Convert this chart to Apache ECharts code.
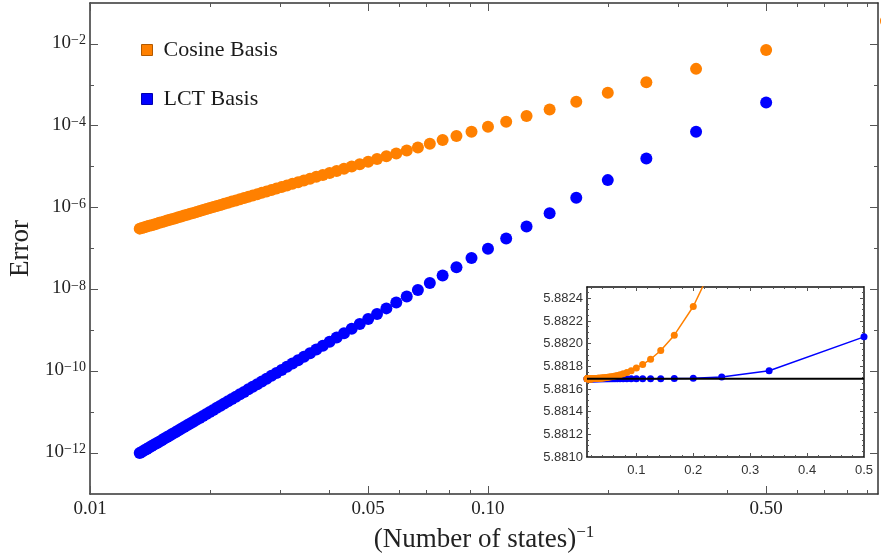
<!DOCTYPE html>
<html><head><meta charset="utf-8">
<script src="https://cdn.jsdelivr.net/npm/echarts@6/dist/echarts.min.js"></script>
<style>html,body{margin:0;padding:0;background:#fff}#c{width:881px;height:556px}</style>
</head><body><div id="c"></div>
<script>
// ---- data ----
const states = [1,2,3,4,5,6,7,8,9,10,11,12,13,14,15,16,17,18,19,20,21,22,23,24,25,26,27,28,29,30,
  31,32,33,34,35,36,37,38,39,40,41,42,43,44,45,46,47,48,49,50,51,52,53,54,55,56,57,58,59,60,
  61,62,63,64,65,66,67,68,69,70,71,72,73,74,75];
const cosineError = [3.63e-2, 7.14e-3, 2.455e-3, 1.164e-3, 6.38e-4, 3.85e-4, 2.50e-4, 1.726e-4, 1.253e-4, 9.46e-5,
  7.14e-5, 5.61e-5, 4.48e-5, 3.64e-5, 2.96e-5, 2.48e-5, 2.10e-5, 1.79e-5, 1.54e-5, 1.324e-5,
  1.153e-5, 1.009e-5, 8.89e-6, 7.87e-6, 7.01e-6, 6.27e-6, 5.64e-6, 5.07e-6, 4.59e-6, 4.17e-6,
  3.80e-6, 3.47e-6, 3.18e-6, 2.92e-6, 2.69e-6, 2.48e-6, 2.30e-6, 2.13e-6, 1.97e-6, 1.84e-6,
  1.71e-6, 1.60e-6, 1.49e-6, 1.40e-6, 1.31e-6, 1.233e-6, 1.159e-6, 1.091e-6, 1.030e-6, 9.73e-7,
  9.18e-7, 8.69e-7, 8.24e-7, 7.82e-7, 7.41e-7, 7.05e-7, 6.70e-7, 6.37e-7, 6.07e-7, 5.78e-7,
  5.52e-7, 5.27e-7, 5.04e-7, 4.81e-7, 4.60e-7, 4.41e-7, 4.23e-7, 4.05e-7, 3.88e-7, 3.72e-7,
  3.58e-7, 3.44e-7, 3.30e-7, 3.18e-7, 3.06e-7];
const lctError = [1.48e-1, 3.70e-4, 7.14e-5, 1.59e-5, 4.69e-6, 1.73e-6, 7.26e-7, 3.44e-7, 1.75e-7, 9.84e-8,
  5.89e-8, 3.48e-8, 2.20e-8, 1.44e-8, 9.73e-9, 6.73e-9, 4.76e-9, 3.44e-9, 2.52e-9, 1.88e-9,
  1.43e-9, 1.09e-9, 8.49e-10, 6.65e-10, 5.27e-10, 4.22e-10, 3.40e-10, 2.76e-10, 2.26e-10, 1.86e-10,
  1.55e-10, 1.29e-10, 1.08e-10, 9.12e-11, 7.73e-11, 6.59e-11, 5.64e-11, 4.84e-11, 4.17e-11, 3.61e-11,
  3.13e-11, 2.74e-11, 2.39e-11, 2.09e-11, 1.85e-11, 1.63e-11, 1.44e-11, 1.28e-11, 1.135e-11, 1.01e-11,
  9.04e-12, 8.07e-12, 7.24e-12, 6.52e-12, 5.86e-12, 5.30e-12, 4.79e-12, 4.34e-12, 3.93e-12, 3.57e-12,
  3.25e-12, 2.96e-12, 2.70e-12, 2.47e-12, 2.26e-12, 2.07e-12, 1.90e-12, 1.75e-12, 1.61e-12, 1.48e-12,
  1.37e-12, 1.26e-12, 1.167e-12, 1.079e-12, 1.00e-12];
const exactEnergy = 5.88169;

const xMajorTicks = [0.01, 0.05, 0.1, 0.5];
const xMinorTicks = [0.02, 0.03, 0.04, 0.06, 0.07, 0.08, 0.09, 0.2, 0.3, 0.4, 0.6, 0.7, 0.8, 0.9];
const yMajorTicks = [1e-12, 1e-10, 1e-8, 1e-6, 1e-4, 1e-2];
const yMinorTicks = [1e-11, 1e-9, 1e-7, 1e-5, 1e-3];
const insetXTicks = [0.1, 0.2, 0.3, 0.4, 0.5];
const insetXMinor = [0.02,0.04,0.06,0.08,0.12,0.14,0.16,0.18,0.22,0.24,0.26,0.28,0.32,0.34,0.36,0.38,0.42,0.44,0.46,0.48];
const insetYTicks = [5.881, 5.8812, 5.8814, 5.8816, 5.8818, 5.882, 5.8822, 5.8824];
const insetYMinor = [5.88105,5.8811,5.88115,5.88125,5.8813,5.88135,5.88145,5.8815,5.88155,5.88165,5.8817,5.88175,
  5.88185,5.8819,5.88195,5.88205,5.8821,5.88215,5.88225,5.8823,5.88235,5.88245];
const insetXMax = 0.5;

// ---- chart ----
const ORANGE = '#ff8000', BLUE = '#0000ff';
const SERIF = 'Liberation Serif', SANS = 'Liberation Sans';
const mainX = {type:'log', logBase:10, min:0.01, max:0.955, gridIndex:0};
const mainY = {type:'log', logBase:10, min:1e-13, max:1e-1, gridIndex:0};
const insX = {type:'value', min:0.0133, max:insetXMax, gridIndex:1};
const insY = {type:'value', min:5.881, max:5.8825, gridIndex:1};

function ax(base, pos, ticks, len, frame, frameColor, extra) {
  return Object.assign({}, base, {
    position: pos,
    splitLine:{show:false}, minorTick:{show:false}, minorSplitLine:{show:false},
    axisLine:{show:frame, onZero:false, lineStyle:{color:frameColor, width:1.5}},
    axisTick:{show:true, inside:true, length:len, customValues:ticks, lineStyle:{color:'#555', width:1}},
    axisLabel:{show:false},
    axisPointer:{show:false}
  }, extra || {});
}

const xAxes = [
  ax(mainX, 'bottom', xMajorTicks, 8, true, '#333', {
    axisLabel:{show:true, customValues:xMajorTicks, margin:6, fontFamily:SERIF, fontSize:19, color:'#222',
      formatter: v => Number(v).toFixed(2)},
    name:'{a|(Number of states)}{s|\u22121}', nameLocation:'middle', nameGap:29,
    nameTextStyle:{rich:{a:{fontFamily:SERIF, fontSize:27, color:'#222', verticalAlign:'bottom', lineHeight:30},
      s:{fontFamily:SERIF, fontSize:17, color:'#222', verticalAlign:'top', lineHeight:17}}}
  }),
  ax(mainX, 'bottom', xMinorTicks, 4, false, '#333'),
  ax(mainX, 'top', xMajorTicks, 8, true, '#333'),
  ax(mainX, 'top', xMinorTicks, 4, false, '#333'),
  ax(insX, 'bottom', insetXTicks, 4, true, '#111', {
    axisLabel:{show:true, customValues:insetXTicks, margin:7, fontFamily:SANS, fontSize:13, color:'#333',
      formatter: v => String(Number(v.toFixed(1)))}
  }),
  ax(insX, 'bottom', insetXMinor, 2, false, '#111'),
  ax(insX, 'top', insetXTicks, 4, true, '#111'),
  ax(insX, 'top', insetXMinor, 2, false, '#111')
];
const yAxes = [
  ax(mainY, 'left', yMajorTicks, 8, true, '#333', {
    axisLabel:{show:true, customValues:yMajorTicks, margin:4, padding:[0,0,2,0],
      formatter: v => '{b|10}{s|\u2212' + Math.round(-Math.log10(v)) + '}',
      rich:{b:{fontFamily:SERIF, fontSize:19, color:'#222', verticalAlign:'bottom', lineHeight:19, padding:[3,0,0,0]},
            s:{fontFamily:SERIF, fontSize:14, color:'#222', verticalAlign:'top', lineHeight:14}}},
    name:'Error', nameLocation:'middle', nameGap:54, nameRotate:90,
    nameTextStyle:{fontFamily:SERIF, fontSize:27, color:'#222'}
  }),
  ax(mainY, 'left', yMinorTicks, 4, false, '#333'),
  ax(mainY, 'right', yMajorTicks, 8, true, '#333'),
  ax(mainY, 'right', yMinorTicks, 4, false, '#333'),
  ax(insY, 'left', insetYTicks, 4, true, '#111', {
    axisLabel:{show:true, customValues:insetYTicks, margin:4, fontFamily:SANS, fontSize:13, color:'#333',
      formatter: v => Number(v).toFixed(4)}
  }),
  ax(insY, 'left', insetYMinor, 2, false, '#111'),
  ax(insY, 'right', insetYTicks, 4, true, '#111'),
  ax(insY, 'right', insetYMinor, 2, false, '#111')
];
for (let i = 4; i < 8; i++) { xAxes[i].gridIndex = 1; yAxes[i].gridIndex = 1; }

const mainCos = states.map((n, i) => [1 / n, cosineError[i]]);
const mainLct = states.map((n, i) => [1 / n, lctError[i]]);
// inset shows the computed energies (exact + error) for points inside its x range
const insCos = states.map((n, i) => [1 / n, exactEnergy + cosineError[i]]).filter(p => p[0] <= insetXMax);
const insLct = states.map((n, i) => [1 / n, exactEnergy + lctError[i]]).filter(p => p[0] <= insetXMax);

const chart = echarts.init(document.getElementById('c'), null, {renderer:'canvas'});
chart.setOption({
  animation:false,
  backgroundColor:'#fff',
  grid:[
    {left:90, top:3, right:3, bottom:62, containLabel:false, outerBoundsMode:'none'},
    {left:587, top:287, width:277, height:170, containLabel:false, outerBoundsMode:'none',
      show:true, backgroundColor:'#fff', borderWidth:0}
  ],
  legend:{
    left:141, top:39, padding:0, orient:'vertical', itemWidth:11, itemHeight:11, itemGap:27, icon:'rect',
    textStyle:{fontFamily:SERIF, fontSize:22, color:'#1a1a1a', lineHeight:22, padding:[0,0,0,6]},
    data:[
      {name:'Cosine Basis', itemStyle:{color:ORANGE, borderColor:'#b35a00', borderWidth:1}},
      {name:'LCT Basis', itemStyle:{color:BLUE, borderColor:'#0000b0', borderWidth:1}}
    ]
  },
  xAxis: xAxes,
  yAxis: yAxes,
  series:[
    {name:'Cosine Basis', type:'scatter', xAxisIndex:0, yAxisIndex:0, data:mainCos, symbolSize:12,
      itemStyle:{color:ORANGE, opacity:1}, clip:false, z:3},
    {name:'LCT Basis', type:'scatter', xAxisIndex:0, yAxisIndex:0, data:mainLct, symbolSize:12,
      itemStyle:{color:BLUE, opacity:1}, clip:false, z:3},
    {name:'LCT Basis', type:'line', xAxisIndex:4, yAxisIndex:4, data:insLct, symbol:'circle', symbolSize:7,
      showSymbol:true, showAllSymbol:true, lineStyle:{color:BLUE, width:1.5}, itemStyle:{color:BLUE}, clip:true, z:4},
    {name:'Cosine Basis', type:'line', xAxisIndex:4, yAxisIndex:4, data:insCos, symbol:'circle', symbolSize:7,
      showSymbol:true, showAllSymbol:true, lineStyle:{color:ORANGE, width:1.5}, itemStyle:{color:ORANGE}, clip:true, z:5},
    {name:'Exact', type:'line', xAxisIndex:4, yAxisIndex:4, data:[[0.0133, exactEnergy],[insetXMax, exactEnergy]],
      symbol:'none', lineStyle:{color:'#000', width:2}, clip:true, z:6}
  ]
});
</script>
</body></html>
